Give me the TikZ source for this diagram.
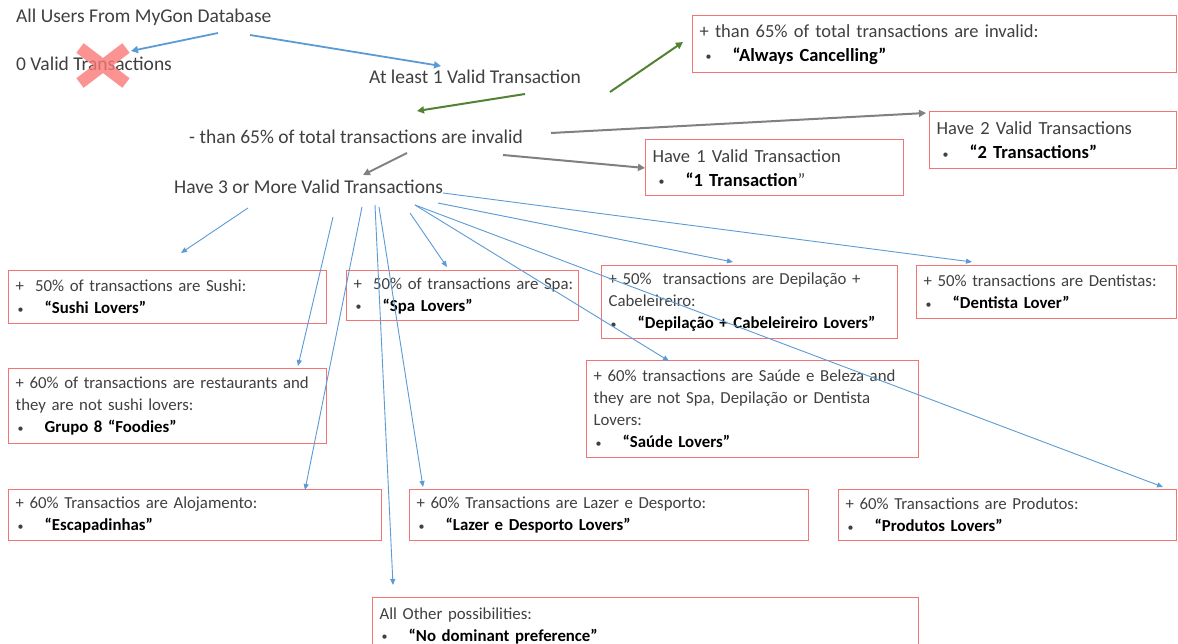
\documentclass[tikz,border=0pt]{standalone}
\usepackage{fontspec}
\setmainfont{Carlito}
\usetikzlibrary{arrows.meta}
\definecolor{boxred}{RGB}{245,115,115}
\definecolor{txtgray}{RGB}{64,64,64}
\definecolor{arrblue}{RGB}{91,155,213}
\definecolor{arrgreen}{RGB}{84,130,53}
\definecolor{arrgray}{RGB}{128,128,128}
\definecolor{xred}{RGB}{250,120,120}
\newcommand\smbul{\raisebox{0.5pt}{\fontsize{12}{12}\selectfont\textbullet}}
\newcommand\bulL[1]{\hspace*{2pt}\makebox[27pt][l]{\smbul}\textbf{\color{black}#1}}
\newcommand\bulT[1]{\hspace*{6pt}\makebox[27pt][l]{\smbul}\textbf{\color{black}#1}}
\begin{document}
\begin{tikzpicture}[x=1pt,y=-1pt,
  lbl/.style={inner sep=0pt, anchor=west, text=txtgray, font=\fontsize{19.5}{22}\selectfont},
  bx/.style={draw=boxred, line width=1.3pt, anchor=north west, inner xsep=7pt, inner ysep=2pt,
     align=left, text=txtgray},
  topbx/.style={bx, font=\fontsize{18.5}{24}\selectfont},
  lowbx/.style={bx, font=\fontsize{16.8}{22}\selectfont},
  thickblue/.style={draw=arrblue, line width=1.8pt, -{Triangle[width=7pt,length=7pt]}},
  thinblue/.style={draw=arrblue, line width=0.9pt, -{Triangle[width=5pt,length=6pt]}},
  greenarr/.style={draw=arrgreen, line width=2pt, -{Triangle[width=7pt,length=7pt]}},
  grayarr/.style={draw=arrgray, line width=2pt, -{Triangle[width=7pt,length=7pt]}},
]
\useasboundingbox[fill=white] (0,0) rectangle (1178,644);

% plain labels
\node[lbl] (users) at (16,17) {All Users From MyGon Database};
\node[lbl] (zero) at (16,64) {0 Valid Transactions};
\node[lbl] (atleast) at (369,77) {At least 1 Valid Transaction};
\node[lbl] (minus) at (189,137) {- than 65\% of total transactions are invalid};
\node[lbl] (three) at (174,187) {Have 3 or More Valid Transactions};

% red cross
\draw[xred, line width=12pt, opacity=0.8] (80,48) -- (126,83) (126,48) -- (80,83);

% boxes
\node[topbx, minimum height=57pt, text width=470pt] (cancel) at (692,15)
  {\mbox{+ than 65\% of total transactions are invalid:}\\ \bulT{“Always Cancelling”}};
\node[topbx, minimum height=57pt, text width=233pt] (two) at (929,111)
  {\mbox{Have 2 Valid Transactions}\\ \bulT{“2 Transactions”}};
\node[topbx, minimum height=56pt, text width=244pt] (one) at (645,139)
  {\mbox{Have 1 Valid Transaction}\\ \bulT{“1 Transaction}”};

\node[lowbx, minimum height=53pt, text width=304pt] (sushi) at (8,270)
  {\mbox{+\ \ 50\% of transactions are Sushi:}\\ \bulL{“Sushi Lovers”}};
\node[lowbx, minimum height=50pt, text width=218pt] (spa) at (346,270)
  {\mbox{+\ \ 50\% of transactions are Spa:}\\ \bulL{“Spa Lovers”}};
\node[lowbx, minimum height=73pt, text width=282pt] (depil) at (601,265)
  {\mbox{+ 50\%\ \ transactions are Depilação +}\\ Cabeleireiro:\\ \mbox{\bulL{“Depilação + Cabeleireiro Lovers”}}};
\node[lowbx, minimum height=53pt, text width=246pt] (dent) at (916,265)
  {\mbox{+ 50\% transactions are Dentistas:}\\ \bulL{“Dentista Lover”}};
\node[lowbx, minimum height=75pt, text width=304pt] (foodies) at (8,368)
  {\mbox{+ 60\% of transactions are restaurants and}\\ \mbox{they are not sushi lovers:}\\ \bulL{Grupo 8 “Foodies”}};
\node[lowbx, minimum height=97pt, text width=318pt] (saude) at (586,360)
  {\mbox{+ 60\% transactions are Saúde e Beleza and}\\ \mbox{they are not Spa, Depilação or Dentista}\\ Lovers:\\ \bulL{“Saúde Lovers”}};
\node[lowbx, minimum height=51pt, text width=359pt] (escap) at (8,489)
  {\mbox{+ 60\% Transactios are Alojamento:}\\ \bulL{“Escapadinhas”}};
\node[lowbx, minimum height=51pt, text width=385pt] (lazer) at (409,489)
  {\mbox{+ 60\% Transactions are Lazer e Desporto:}\\ \bulL{“Lazer e Desporto Lovers”}};
\node[lowbx, minimum height=51pt, text width=324pt] (produtos) at (838,489)
  {\mbox{+ 60\% Transactions are Produtos:}\\ \bulL{“Produtos Lovers”}};
\node[lowbx, minimum height=56pt, text width=532pt] (other) at (372,597)
  {\mbox{All Other possibilities:}\\ \bulL{“No dominant preference”}};

% connector end points
\coordinate (u1) at (218,33);  \coordinate (zT) at (131,51);
\coordinate (u2) at (250,35);  \coordinate (aT) at (441,66);
\coordinate (a1) at (525,94);  \coordinate (mT) at (417,111);
\coordinate (a2) at (610,92);  \coordinate (cT) at (683,42);
\coordinate (m1) at (551,133); \coordinate (twoT) at (926,113);
\coordinate (m2) at (503,155); \coordinate (oneT) at (645,168);
\coordinate (m3) at (407,153); \coordinate (thT) at (363,175);

\coordinate (s1) at (248,208); \coordinate (sushiT) at (181,253);
\coordinate (s2) at (333,217); \coordinate (foodT) at (298,366);
\coordinate (s3) at (362,207); \coordinate (escT) at (305,490);
\coordinate (s4) at (375,205); \coordinate (othT) at (393,585);
\coordinate (s5) at (379,207); \coordinate (lazT) at (423,487);
\coordinate (s6) at (410,213); \coordinate (spaT) at (447,267);
\coordinate (s7) at (415,205); \coordinate (saudeT) at (669,361);
\coordinate (prodT) at (1163,487);
\coordinate (s8) at (438,203); \coordinate (depT) at (733,262);
\coordinate (s9) at (443,193); \coordinate (dentT) at (972,262);

\draw[thickblue] (u1) -- (zT);
\draw[thickblue] (u2) -- (aT);
\draw[greenarr] (a1) -- (mT);
\draw[greenarr] (a2) -- (cT);
\draw[grayarr] (m1) -- (twoT);
\draw[grayarr] (m2) -- (oneT);
\draw[grayarr] (m3) -- (thT);

\draw[thinblue] (s1) -- (sushiT);
\draw[thinblue] (s2) -- (foodT);
\draw[thinblue] (s3) -- (escT);
\draw[thinblue] (s4) -- (othT);
\draw[thinblue] (s5) -- (lazT);
\draw[thinblue] (s6) -- (spaT);
\draw[thinblue] (s7) -- (saudeT);
\draw[thinblue] (s7) -- (prodT);
\draw[thinblue] (s8) -- (depT);
\draw[thinblue] (s9) -- (dentT);
\end{tikzpicture}
\end{document}
